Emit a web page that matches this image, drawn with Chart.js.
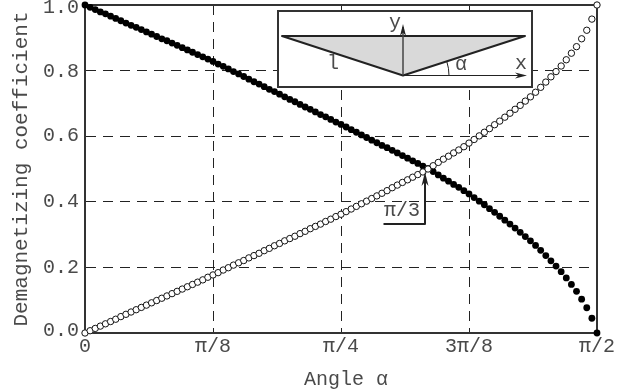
<!DOCTYPE html>
<html><head><meta charset="utf-8">
<script src="https://cdn.jsdelivr.net/npm/chart.js@4"></script>
<style>html,body{margin:0;padding:0;background:#fff}canvas{display:block}</style>
</head><body><canvas id="c" width="639" height="392"></canvas>
<script>
const angles=[0,0.9,1.8,2.7,3.6,4.5,5.4,6.3,7.2,8.1,
9,9.9,10.8,11.7,12.6,13.5,14.4,15.3,16.2,17.1,
18,18.9,19.8,20.7,21.6,22.5,23.4,24.3,25.2,26.1,
27,27.9,28.8,29.7,30.6,31.5,32.4,33.3,34.2,35.1,
36,36.9,37.8,38.7,39.6,40.5,41.4,42.3,43.2,44.1,
45,45.9,46.8,47.7,48.6,49.5,50.4,51.3,52.2,53.1,
54,54.9,55.8,56.7,57.6,58.5,59.4,60.3,61.2,62.1,
63,63.9,64.8,65.7,66.6,67.5,68.4,69.3,70.2,71.1,
72,72.9,73.8,74.7,75.6,76.5,77.4,78.3,79.2,80.1,
81,81.9,82.8,83.7,84.6,85.5,86.4,87.3,88.2,89.1,
90];
const openValues=[0.000,0.007,0.014,0.021,0.028,0.035,0.042,0.050,0.057,0.064,
0.071,0.078,0.085,0.092,0.099,0.106,0.113,0.120,0.127,0.134,
0.141,0.148,0.155,0.162,0.170,0.177,0.184,0.192,0.199,0.207,
0.214,0.221,0.229,0.236,0.243,0.251,0.258,0.266,0.273,0.281,
0.288,0.295,0.303,0.310,0.318,0.325,0.332,0.340,0.347,0.355,
0.362,0.370,0.378,0.386,0.394,0.402,0.410,0.418,0.426,0.434,
0.443,0.451,0.459,0.467,0.475,0.483,0.491,0.500,0.510,0.520,
0.530,0.539,0.549,0.558,0.568,0.579,0.590,0.601,0.612,0.623,
0.635,0.646,0.658,0.670,0.682,0.694,0.707,0.720,0.734,0.749,
0.765,0.781,0.797,0.814,0.833,0.853,0.873,0.897,0.923,0.957,
1.000];
const filledValues=[1.000,0.993,0.986,0.979,0.973,0.966,0.959,0.952,0.945,0.938,
0.932,0.925,0.918,0.911,0.904,0.897,0.891,0.884,0.877,0.870,
0.863,0.856,0.849,0.842,0.835,0.828,0.820,0.813,0.805,0.797,
0.790,0.782,0.774,0.766,0.759,0.751,0.743,0.736,0.728,0.720,
0.712,0.705,0.697,0.689,0.682,0.674,0.666,0.659,0.651,0.643,
0.636,0.628,0.620,0.612,0.604,0.596,0.588,0.580,0.572,0.565,
0.557,0.549,0.541,0.533,0.525,0.517,0.509,0.502,0.492,0.482,
0.472,0.463,0.453,0.444,0.434,0.424,0.413,0.402,0.391,0.379,
0.368,0.356,0.344,0.332,0.320,0.307,0.294,0.281,0.267,0.252,
0.236,0.220,0.204,0.187,0.168,0.148,0.127,0.103,0.077,0.045,
0.000];
const xTickValues=[0,22.5,45,67.5,90];
const xTickLabels=["0","π/8","π/4","3π/8","π/2"];
const yTickValues=[0,0.2,0.4,0.6,0.8,1];
const yTickLabels=["0.0","0.2","0.4","0.6","0.8","1.0"];
const yLabelNudge=[-2,0,0,0,1,3];
const FONT='"Liberation Mono", monospace';
const INK='#333', TXT='#4a4a4a';
function arrow(ctx,x,y,dx,dy,len,w){
  ctx.beginPath();ctx.moveTo(x,y);
  ctx.lineTo(x-dx*len+dy*w,y-dy*len+dx*w);
  ctx.lineTo(x-dx*len*0.7,y-dy*len*0.7);
  ctx.lineTo(x-dx*len-dy*w,y-dy*len-dx*w);
  ctx.closePath();ctx.fill();
}
function shiftTitle(scale,dx){
  if(scale.__shifted)return;scale.__shifted=true;
  const orig=scale.drawTitle;
  scale.drawTitle=function(){const c=this.ctx;c.save();c.translate(dx,0);orig.apply(this,arguments);c.restore();};
}
const frame={id:'frame',
 afterLayout(chart){
  shiftTitle(chart.scales.x,5);shiftTitle(chart.scales.y,9);
  const s=chart.scales.y;
  if(!s.__nudged&&s._computeLabelItems){s.__nudged=true;
   const orig=s._computeLabelItems;
   s._computeLabelItems=function(a){const items=orig.call(this,a);
    items.forEach((it,i)=>{const t=it.options.translation;it.options.translation=[t[0],t[1]+(yLabelNudge[i]||0)];});
    return items;};
   s._labelItems=null;}
 },
 beforeDatasetsDraw(chart){
  const a=chart.chartArea,c=chart.ctx;c.save();c.strokeStyle=INK;c.lineWidth=2;
  c.strokeRect(a.left,a.top,a.right-a.left,a.bottom-a.top);c.restore();
 }};
const inset={id:'inset',afterDatasetsDraw(chart){
  const c=chart.ctx;c.save();
  const L=chart.chartArea.left,T=chart.chartArea.top;
  const X=v=>L+v,Y=v=>T+v;
  c.fillStyle='#fff';c.fillRect(X(193),Y(6),254,76);
  c.strokeStyle=INK;c.lineWidth=2;c.strokeRect(X(193),Y(6),254,76);
  c.fillStyle='#d9d9d9';c.beginPath();c.moveTo(X(197),Y(31));c.lineTo(X(440),Y(31));c.lineTo(X(318),Y(70.5));c.closePath();c.fill();
  c.lineWidth=2;c.lineJoin='round';c.strokeStyle='#222';c.beginPath();c.moveTo(X(197),Y(31));c.lineTo(X(440),Y(31));c.lineTo(X(318),Y(70.5));c.closePath();c.stroke();
  c.fillStyle='#222';c.lineWidth=1.5;c.strokeStyle='#444';
  c.beginPath();c.moveTo(X(318),Y(70.5));c.lineTo(X(318),Y(22));c.stroke();arrow(c,X(318),Y(19),0,-1,12,3);
  c.lineWidth=1;c.strokeStyle='#222';
  c.beginPath();c.moveTo(X(318),Y(70.5));c.lineTo(X(438),Y(70.5));c.stroke();arrow(c,X(442),Y(70.5),1,0,12,3);
  c.beginPath();c.arc(X(318),Y(70.5),46,-Math.atan(39.5/122),0);c.stroke();
  c.fillStyle=TXT;c.font='20px '+FONT;c.textAlign='center';c.textBaseline='middle';
  c.fillText('y',X(310),Y(18));c.fillText('x',X(436),Y(59));c.fillText('α',X(376),Y(60));c.fillText('l',X(248),Y(59));
  c.strokeStyle='#222';c.lineWidth=2;c.beginPath();c.moveTo(X(298.5),Y(219));c.lineTo(X(340),Y(219));c.lineTo(X(340),Y(176));c.stroke();
  c.fillStyle='#222';arrow(c,X(340),Y(167),0,-1,14,3.5);
  c.fillStyle=TXT;c.fillText('π/3',X(317),Y(206));
  c.restore();
}};
new Chart(document.getElementById('c'),{type:'scatter',
 data:{datasets:[
  {data:angles.map((a,i)=>({x:a,y:filledValues[i]})),order:2,showLine:false,clip:false,pointRadius:3.4,pointBackgroundColor:'#000',pointBorderColor:'#000',pointBorderWidth:0},
  {data:angles.map((a,i)=>({x:a,y:openValues[i]})),order:1,showLine:false,clip:false,pointRadius:3.2,pointBackgroundColor:'#fff',pointBorderColor:'#111',pointBorderWidth:1}
 ]},
 plugins:[frame,inset],
 options:{responsive:false,animation:false,
  layout:{padding:{top:5,right:42,left:0,bottom:0}},
  plugins:{legend:{display:false},tooltip:{enabled:false}},
  scales:{
   x:{type:'linear',min:0,max:90,afterBuildTicks(s){s.ticks=xTickValues.map(v=>({value:v}))},
    afterFit(s){s.height=59;s.paddingLeft=0;s.paddingRight=0;},
    ticks:{autoSkip:false,maxRotation:0,font:{family:FONT,size:20},color:TXT,padding:2,callback:(v)=>xTickLabels[xTickValues.indexOf(v)]},
    border:{display:true,color:INK,width:2,dash:[10,7]},
    grid:{color:'#222',lineWidth:1,drawTicks:false,tickLength:0},
    title:{display:true,text:'Angle α',font:{family:FONT,size:20},color:TXT,padding:{top:6,bottom:0}}},
   y:{type:'linear',min:0,max:1,afterBuildTicks(s){s.ticks=yTickValues.map(v=>({value:v}))},
    afterFit(s){s.width=85;s.paddingTop=0;s.paddingBottom=0;},
    ticks:{autoSkip:false,font:{family:FONT,size:20},color:TXT,padding:6,callback:(v)=>yTickLabels[yTickValues.indexOf(v)]},
    border:{display:true,color:INK,width:2,dash:[10,7]},
    grid:{color:'#222',lineWidth:1,drawTicks:false,tickLength:0},
    title:{display:true,text:'Demagnetizing coefficient',font:{family:FONT,size:21},color:TXT,padding:{top:0,bottom:0}}}
  }},
});
</script></body></html>
